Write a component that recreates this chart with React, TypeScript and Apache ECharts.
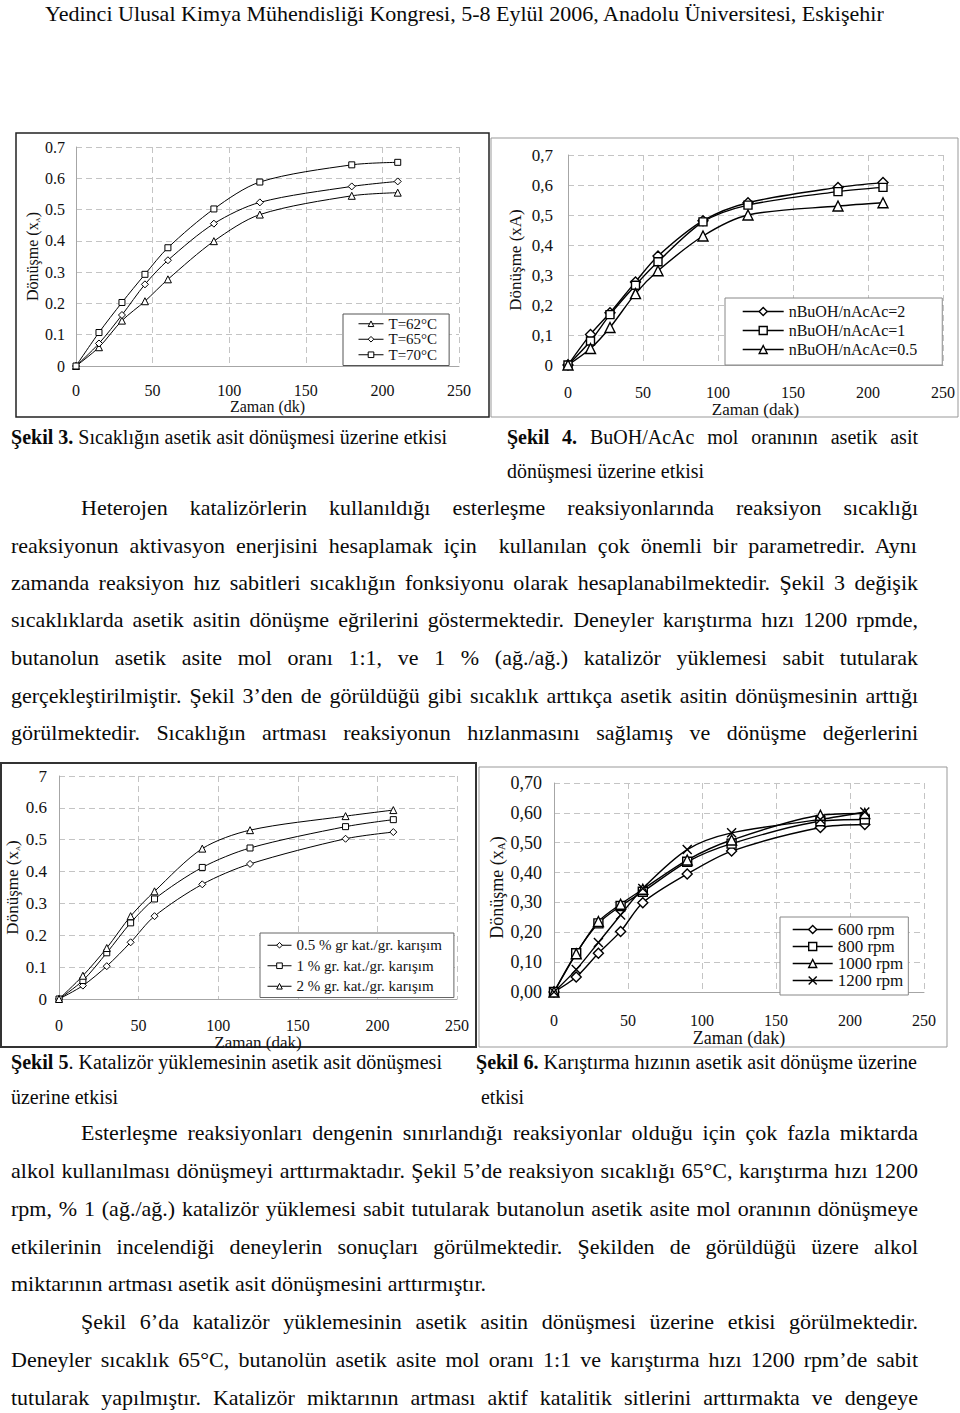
import React, { useEffect, useRef, useMemo } from "react";
import * as echarts from "echarts";

const FONT = '"Liberation Serif", "Times New Roman", serif';

// ---------- DATA ----------
const xTickLabels = ["0", "50", "100", "150", "200", "250"];

// Şekil 3 – temperature
const fig3Time = [0, 15, 30, 45, 60, 90, 120, 180, 210];
const fig3Names = ["T=62°C", "T=65°C", "T=70°C"];
const fig3T62 = [0, 0.06, 0.145, 0.207, 0.277, 0.399, 0.484, 0.544, 0.554];
const fig3T65 = [0, 0.072, 0.163, 0.261, 0.338, 0.455, 0.523, 0.574, 0.59];
const fig3T70 = [0, 0.107, 0.203, 0.293, 0.378, 0.502, 0.588, 0.643, 0.651];
const fig3YTicks = ["0", "0.1", "0.2", "0.3", "0.4", "0.5", "0.6", "0.7"];

// Şekil 4 – mol ratio
const fig4Time = [0, 15, 28, 45, 60, 90, 120, 180, 210];
const fig4Names = ["nBuOH/nAcAc=2", "nBuOH/nAcAc=1", "nBuOH/nAcAc=0.5"];
const fig4R2 = [0, 0.102, 0.174, 0.277, 0.363, 0.481, 0.541, 0.592, 0.608];
const fig4R1 = [0, 0.08, 0.168, 0.266, 0.344, 0.477, 0.533, 0.578, 0.592];
const fig4R05 = [0, 0.055, 0.125, 0.238, 0.314, 0.43, 0.5, 0.53, 0.541];
const fig4YTicks = ["0", "0,1", "0,2", "0,3", "0,4", "0,5", "0,6", "0,7"];

// Şekil 5 – catalyst loading
const fig5Time = [0, 15, 30, 45, 60, 90, 120, 180, 210];
const fig5Names = ["0.5 % gr kat./gr. karışım", "1 % gr. kat./gr. karışım", "2 % gr. kat./gr. karışım"];
const fig5K05 = [0, 0.042, 0.103, 0.178, 0.26, 0.36, 0.424, 0.503, 0.524];
const fig5K1 = [0, 0.058, 0.145, 0.239, 0.314, 0.413, 0.474, 0.541, 0.563];
const fig5K2 = [0, 0.073, 0.16, 0.26, 0.338, 0.472, 0.53, 0.574, 0.593];
const fig5YTicks = ["0", "0.1", "0.2", "0.3", "0.4", "0.5", "0.6", "7"];

// Şekil 6 – stirring speed
const fig6Time = [0, 15, 30, 45, 60, 90, 120, 180, 210];
const fig6Names = ["600 rpm", "800 rpm", "1000 rpm", "1200 rpm"];
const fig6R600 = [0, 0.05, 0.13, 0.203, 0.299, 0.395, 0.472, 0.551, 0.561];
const fig6R800 = [0, 0.13, 0.23, 0.288, 0.336, 0.436, 0.497, 0.572, 0.578];
const fig6R1000 = [0, 0.128, 0.236, 0.294, 0.344, 0.442, 0.509, 0.592, 0.598];
const fig6R1200 = [0, 0.075, 0.166, 0.258, 0.347, 0.477, 0.533, 0.578, 0.603];
const fig6YTicks = ["0,00", "0,10", "0,20", "0,30", "0,40", "0,50", "0,60", "0,70"];

// ---------- TEXT ----------
type Seg = { t: string; b?: boolean };
type TLine = { segs: Seg[]; x: number; y: number; w: number; fs: number; mode: "j" | "s" };

const BODY = 22;
const CAP = 20;

const textLines: TLine[] = [
  { segs: [{ t: "Yedinci Ulusal Kimya Mühendisliği Kongresi, 5-8 Eylül 2006, Anadolu Üniversitesi, Eskişehir" }], x: 45, y: 14, w: 840, fs: 21, mode: "s" },
  { segs: [{ t: "Şekil 3.", b: true }, { t: " Sıcaklığın asetik asit dönüşmesi üzerine etkisi" }], x: 11, y: 437, w: 436, fs: CAP, mode: "s" },
  { segs: [{ t: "Şekil 4.", b: true }, { t: " BuOH/AcAc mol oranının asetik asit" }], x: 507, y: 437, w: 411, fs: CAP, mode: "j" },
  { segs: [{ t: "dönüşmesi üzerine etkisi" }], x: 507, y: 471, w: 197, fs: CAP, mode: "s" },
  { segs: [{ t: "Heterojen katalizörlerin kullanıldığı esterleşme reaksiyonlarında reaksiyon sıcaklığı" }], x: 81, y: 508, w: 837, fs: BODY, mode: "j" },
  { segs: [{ t: "reaksiyonun aktivasyon enerjisini hesaplamak için  kullanılan çok önemli bir parametredir. Aynı" }], x: 11, y: 546, w: 907, fs: BODY, mode: "j" },
  { segs: [{ t: "zamanda reaksiyon hız sabitleri sıcaklığın fonksiyonu olarak hesaplanabilmektedir. Şekil 3 değişik" }], x: 11, y: 583, w: 907, fs: BODY, mode: "j" },
  { segs: [{ t: "sıcaklıklarda asetik asitin dönüşme eğrilerini göstermektedir. Deneyler karıştırma hızı 1200 rpmde," }], x: 11, y: 620, w: 907, fs: BODY, mode: "j" },
  { segs: [{ t: "butanolun asetik asite mol oranı 1:1, ve 1 % (ağ./ağ.) katalizör yüklemesi sabit tutularak" }], x: 11, y: 658, w: 907, fs: BODY, mode: "j" },
  { segs: [{ t: "gerçekleştirilmiştir. Şekil 3’den de görüldüğü gibi sıcaklık arttıkça asetik asitin dönüşmesinin arttığı" }], x: 11, y: 696, w: 907, fs: BODY, mode: "j" },
  { segs: [{ t: "görülmektedir. Sıcaklığın artması reaksiyonun hızlanmasını sağlamış ve dönüşme değerlerini" }], x: 11, y: 733, w: 907, fs: BODY, mode: "j" },
  { segs: [{ t: "Şekil 5", b: true }, { t: ". Katalizör yüklemesinin asetik asit dönüşmesi" }], x: 11, y: 1062, w: 431, fs: CAP, mode: "s" },
  { segs: [{ t: "üzerine etkisi" }], x: 11, y: 1097, w: 107, fs: CAP, mode: "s" },
  { segs: [{ t: "Şekil 6.", b: true }, { t: " Karıştırma hızının asetik asit dönüşme üzerine" }], x: 476, y: 1062, w: 441, fs: CAP, mode: "s" },
  { segs: [{ t: "etkisi" }], x: 481, y: 1097, w: 43, fs: CAP, mode: "s" },
  { segs: [{ t: "Esterleşme reaksiyonları dengenin sınırlandığı reaksiyonlar olduğu için çok fazla miktarda" }], x: 81, y: 1133, w: 837, fs: BODY, mode: "j" },
  { segs: [{ t: "alkol kullanılması dönüşmeyi arttırmaktadır. Şekil 5’de reaksiyon sıcaklığı 65°C, karıştırma hızı 1200" }], x: 11, y: 1171, w: 907, fs: BODY, mode: "j" },
  { segs: [{ t: "rpm, % 1 (ağ./ağ.) katalizör yüklemesi sabit tutularak butanolun asetik asite mol oranının dönüşmeye" }], x: 11, y: 1209, w: 907, fs: BODY, mode: "j" },
  { segs: [{ t: "etkilerinin incelendiği deneylerin sonuçları görülmektedir. Şekilden de görüldüğü üzere alkol" }], x: 11, y: 1247, w: 907, fs: BODY, mode: "j" },
  { segs: [{ t: "miktarının artması asetik asit dönüşmesini arttırmıştır." }], x: 11, y: 1284, w: 475, fs: BODY, mode: "s" },
  { segs: [{ t: "Şekil 6’da katalizör yüklemesinin asetik asitin dönüşmesi üzerine etkisi görülmektedir." }], x: 81, y: 1322, w: 837, fs: BODY, mode: "j" },
  { segs: [{ t: "Deneyler sıcaklık 65°C, butanolün asetik asite mol oranı 1:1 ve karıştırma hızı 1200 rpm’de sabit" }], x: 11, y: 1360, w: 907, fs: BODY, mode: "j" },
  { segs: [{ t: "tutularak yapılmıştır. Katalizör miktarının artması aktif katalitik sitlerini arttırmakta ve dengeye" }], x: 11, y: 1398, w: 907, fs: BODY, mode: "j" },
];

// ---------- helpers ----------
const pairs = (xs: number[], ys: number[]) => xs.map((x, i) => [x, ys[i]]);

function lineSeries(name: string, xs: number[], ys: number[], idx: number, symbol: string, size: number, lw: number) {
  return {
    type: "line",
    name,
    xAxisIndex: idx,
    yAxisIndex: idx,
    data: pairs(xs, ys),
    smooth: 0.3,
    symbol,
    symbolSize: size,
    showSymbol: true,
    color: "#000",
    lineStyle: { color: "#000", width: lw },
    itemStyle: { color: "#fff", borderColor: "#000", borderWidth: lw },
    emphasis: { disabled: true },
    z: 3,
  };
}

const GRID_COLOR = "#c4c4c4";
const AXIS_COLOR = "#a6a6a6";

function xAxisOf(idx: number, fs: number, margin: number, name: string, nameGap: number, nameFs: number) {
  return {
    type: "value",
    gridIndex: idx,
    min: 0,
    max: 250,
    interval: 50,
    axisLine: { show: true, lineStyle: { color: AXIS_COLOR, width: 1 } },
    axisTick: { show: false },
    axisLabel: {
      margin,
      fontFamily: FONT,
      fontSize: fs,
      color: "#111",
      formatter: (v: number) => xTickLabels[Math.round(v / 50)],
    },
    splitLine: { show: true, lineStyle: { color: GRID_COLOR, width: 1, type: [6, 4] } },
    name,
    nameLocation: "middle",
    nameGap,
    nameTextStyle: { fontFamily: FONT, fontSize: nameFs, color: "#111", verticalAlign: "middle" },
  };
}

function yAxisOf(idx: number, ticks: string[], fs: number, margin: number, name: string, nameGap: number, nameFs: number, subFs: number) {
  return {
    type: "value",
    gridIndex: idx,
    min: 0,
    max: 0.7,
    interval: 0.1,
    axisLine: { show: true, lineStyle: { color: AXIS_COLOR, width: 1 } },
    axisTick: { show: false },
    axisLabel: {
      margin,
      fontFamily: FONT,
      fontSize: fs,
      color: "#111",
      formatter: (v: number) => ticks[Math.round(v * 10)],
    },
    splitLine: { show: true, lineStyle: { color: GRID_COLOR, width: 1, type: [6, 4] } },
    name,
    nameLocation: "middle",
    nameGap,
    nameTextStyle: {
      fontFamily: FONT,
      fontSize: nameFs,
      color: "#111",
      verticalAlign: "middle",
      rich: {
        a: { fontFamily: FONT, fontSize: nameFs, color: "#111", lineHeight: nameFs + 2 },
        s: { fontFamily: FONT, fontSize: subFs, color: "#111", verticalAlign: "bottom", lineHeight: nameFs + 2 },
      },
    },
  };
}

function legendOf(names: string[], left: number, top: number, pad: number[], iw: number, ih: number, lh: number, fs: number, border: string, lw: number) {
  return {
    data: names,
    orient: "vertical",
    left,
    top,
    padding: pad,
    itemWidth: iw,
    itemHeight: ih,
    itemGap: 0,
    selectedMode: false,
    backgroundColor: "#fff",
    borderColor: border,
    borderWidth: 1,
    borderRadius: 0,
    itemStyle: { color: "#fff", borderColor: "#000", borderWidth: lw },
    lineStyle: { color: "#000", width: lw },
    textStyle: { fontFamily: FONT, fontSize: fs, color: "#111", lineHeight: lh },
  };
}

const xMark = "path://M0,0L10,10M10,0L0,10";

function frame(x: number, y: number, w: number, h: number, stroke: string, lw: number) {
  return { type: "rect", z: -1, silent: true, shape: { x, y, width: w, height: h }, style: { fill: "none", stroke, lineWidth: lw } };
}

function buildOption() {
  return {
    animation: false,
    backgroundColor: "#fff",
    grid: [
      { left: 76, top: 147, width: 383, height: 219 },
      { left: 568, top: 155, width: 375, height: 210 },
      { left: 59, top: 776, width: 398, height: 223 },
      { left: 554, top: 783, width: 370, height: 209 },
    ],
    xAxis: [
      xAxisOf(0, 16, 16, "Zaman (dk)", 39, 16),
      xAxisOf(1, 16, 19, "Zaman (dak)", 37, 17),
      xAxisOf(2, 16, 18, "Zaman (dak)", 36, 17),
      xAxisOf(3, 16, 20, "Zaman (dak)", 39, 18),
    ],
    yAxis: [
      yAxisOf(0, fig3YTicks, 16, 11, "{a|Dönüşme (x}{s|A}{a|)}", 44, 16, 7),
      yAxisOf(1, fig4YTicks, 17, 15, "{a|Dönüşme (xA)}", 53, 17, 10),
      yAxisOf(2, fig5YTicks, 17, 12, "{a|Dönüşme (x}{s|A}{a|)}", 42, 17, 7),
      yAxisOf(3, fig6YTicks, 18, 12, "{a|Dönüşme (x}{s|A}{a|)}", 57, 18, 11),
    ],
    legend: [
      legendOf(fig3Names, 343, 314, [2, 12, 3, 15], 25, 7, 15.5, 15, "#555", 1),
      legendOf(fig4Names, 725, 298, [4, 25, 6, 17], 41, 10, 19, 16, "#888", 1.4),
      legendOf(fig5Names, 260, 933, [2, 12, 1, 7], 24, 7, 20.5, 15, "#666", 1),
      legendOf(fig6Names, 780, 917, [4, 5, 6, 12], 40, 10, 17, 17, "#888", 1.4),
    ],
    series: [
      lineSeries(fig3Names[0], fig3Time, fig3T62, 0, "triangle", 7, 1),
      lineSeries(fig3Names[1], fig3Time, fig3T65, 0, "diamond", 7, 1),
      lineSeries(fig3Names[2], fig3Time, fig3T70, 0, "rect", 6, 1),
      lineSeries(fig4Names[0], fig4Time, fig4R2, 1, "diamond", 10, 1.4),
      lineSeries(fig4Names[1], fig4Time, fig4R1, 1, "rect", 8, 1.4),
      lineSeries(fig4Names[2], fig4Time, fig4R05, 1, "triangle", 10, 1.4),
      lineSeries(fig5Names[0], fig5Time, fig5K05, 2, "diamond", 7, 1),
      lineSeries(fig5Names[1], fig5Time, fig5K1, 2, "rect", 6, 1),
      lineSeries(fig5Names[2], fig5Time, fig5K2, 2, "triangle", 7, 1),
      lineSeries(fig6Names[0], fig6Time, fig6R600, 3, "diamond", 10, 1.4),
      lineSeries(fig6Names[1], fig6Time, fig6R800, 3, "rect", 9, 1.4),
      lineSeries(fig6Names[2], fig6Time, fig6R1000, 3, "triangle", 10, 1.4),
      lineSeries(fig6Names[3], fig6Time, fig6R1200, 3, xMark, 9, 1.4),
    ],
    graphic: [
      frame(16, 133, 473, 284, "#222", 1.5),
      frame(491, 138, 467, 279, "#999", 1),
      frame(1, 763, 475, 284, "#333", 2),
      frame(479, 767, 468, 280, "#999", 1),
    ],
  };
}

// ---------- text measurement ----------
let measureCtx: CanvasRenderingContext2D | null = null;
function measure(segs: Seg[], fs: number) {
  if (!measureCtx) measureCtx = document.createElement("canvas").getContext("2d");
  let w = 0;
  for (const s of segs) {
    measureCtx!.font = `${s.b ? "bold " : ""}${fs}px "Liberation Serif"`;
    w += measureCtx!.measureText(s.t).width;
  }
  return w;
}

function TextLine({ line }: { line: TLine }) {
  const style = useMemo(() => {
    const nat = measure(line.segs, line.fs);
    const spaces = line.segs.reduce((n, s) => n + (s.t.match(/ /g) || []).length, 0);
    const st: React.CSSProperties = {
      position: "absolute",
      left: line.x,
      top: line.y - line.fs / 2,
      height: line.fs,
      lineHeight: `${line.fs}px`,
      fontSize: line.fs,
      fontFamily: FONT,
      whiteSpace: "pre",
      color: "#0a0a0a",
      transformOrigin: "0 50%",
    };
    if (line.mode === "j" && nat <= line.w && spaces > 0) {
      st.wordSpacing = (line.w - nat) / spaces;
    } else {
      st.transform = `scaleX(${line.w / nat})`;
    }
    return st;
  }, [line]);
  return (
    <div style={style}>
      {line.segs.map((s, i) => (
        <span key={i} style={{ fontWeight: s.b ? 700 : 400 }}>
          {s.t}
        </span>
      ))}
    </div>
  );
}

export default function App() {
  const ref = useRef<HTMLDivElement>(null);
  useEffect(() => {
    if (!ref.current) return;
    const chart = echarts.init(ref.current, null, { renderer: "svg" });
    chart.setOption(buildOption() as any);
    return () => chart.dispose();
  }, []);
  return (
    <div style={{ position: "absolute", left: 0, top: 0, width: 960, height: 1413, background: "#fff", overflow: "hidden" }}>
      <div ref={ref} style={{ position: "absolute", left: 0, top: 0, width: 960, height: 1413 }} />
      {textLines.map((l, i) => (
        <TextLine key={i} line={l} />
      ))}
    </div>
  );
}
